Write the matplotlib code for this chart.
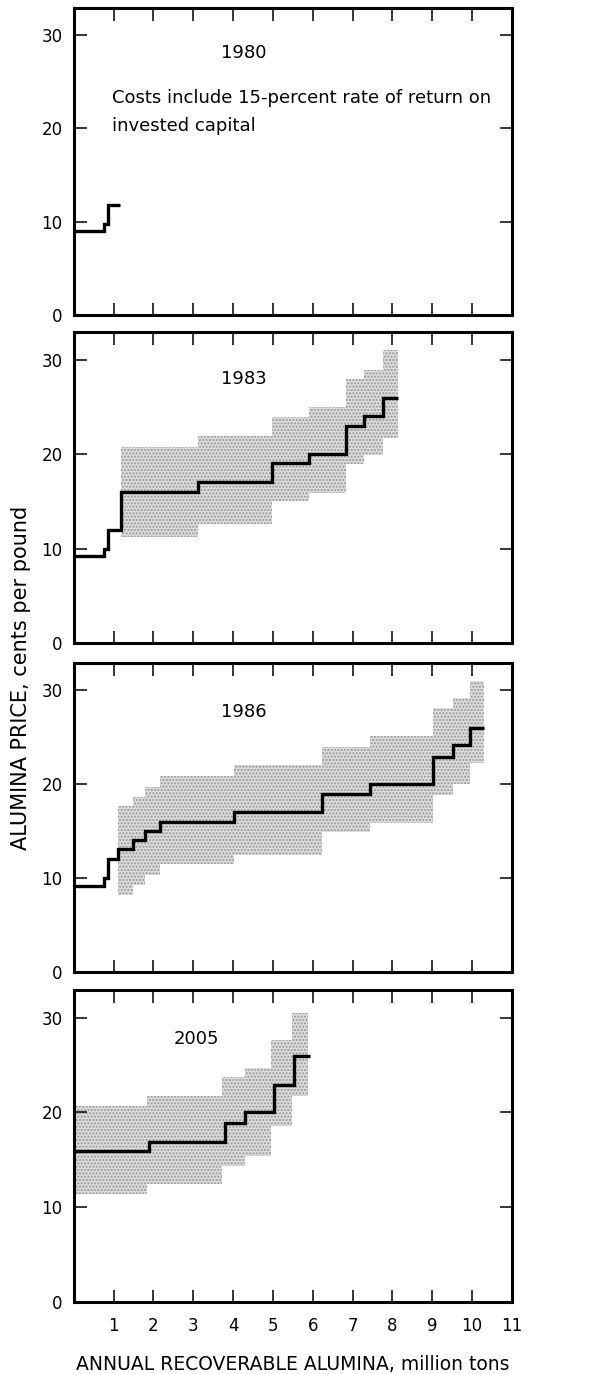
import matplotlib
matplotlib.use("Agg")
import matplotlib.pyplot as plt

# alumina price curves (cents per pound vs million tons)
years = ["1980", "1983", "1986", "2005"]

edges_1980 = [0, 0.77, 0.86, 1.17]
price_1980 = [9.0, 9.8, 11.8]

edges_1983 = [0, 0.77, 0.85, 1.18, 3.11, 4.98, 5.91, 6.83, 7.28, 7.76, 8.13]
price_1983 = [9.2, 10.0, 12.0, 16.0, 17.0, 19.0, 20.0, 23.0, 24.0, 25.9]
band_edges_1983 = [1.18, 3.11, 4.98, 5.91, 6.83, 7.28, 7.76, 8.13]
band_hi_1983 = [20.7, 21.9, 23.9, 25.0, 27.9, 28.9, 31.0]
band_lo_1983 = [11.2, 12.6, 15.0, 15.9, 18.9, 19.9, 21.7]

edges_1986 = [0, 0.77, 0.85, 1.10, 1.48, 1.78, 2.17, 4.02, 6.24, 7.45, 9.02, 9.52, 9.96, 10.31]
price_1986 = [9.2, 10.0, 12.0, 13.1, 14.1, 15.0, 16.0, 17.0, 19.0, 20.0, 22.9, 24.2, 26.0]
band_edges_1986 = [1.10, 1.48, 1.78, 2.17, 4.02, 6.24, 7.45, 9.02, 9.52, 9.96, 10.31]
band_hi_1986 = [17.7, 18.6, 19.7, 20.9, 22.0, 24.0, 25.1, 28.1, 29.2, 31.0]
band_lo_1986 = [8.2, 9.3, 10.3, 11.5, 12.5, 14.9, 15.9, 18.8, 20.0, 22.2]

edges_2005 = [0, 1.89, 3.80, 4.29, 5.02, 5.54, 5.93]
price_2005 = [15.9, 16.9, 18.9, 20.0, 22.85, 26.0]
band_edges_2005 = [0, 1.83, 3.73, 4.29, 4.94, 5.49, 5.89]
band_hi_2005 = [20.65, 21.7, 23.7, 24.7, 27.6, 30.5]
band_lo_2005 = [11.4, 12.4, 14.35, 15.4, 18.6, 21.7]

x_ticks = list(range(1, 11))
x_labels = [str(i) for i in range(1, 12)]
y_ticks = [0, 10, 20, 30]

plt.rcParams['hatch.linewidth'] = 1.0
plt.rcParams['hatch.color'] = '#969696'

fig = plt.figure(figsize=(6.1, 13.74), dpi=100)

# panel boxes in figure coords (left, bottom, width, height)
boxes = [
    [0.121, 0.7707, 0.718, 0.2234],
    [0.121, 0.532, 0.718, 0.2263],
    [0.121, 0.2926, 0.718, 0.2249],
    [0.121, 0.0524, 0.718, 0.227],
]

lines = [(edges_1980, price_1980), (edges_1983, price_1983),
         (edges_1986, price_1986), (edges_2005, price_2005)]
bands = [None,
         (band_edges_1983, band_hi_1983, band_lo_1983),
         (band_edges_1986, band_hi_1986, band_lo_1986),
         (band_edges_2005, band_hi_2005, band_lo_2005)]
year_pos = [(4.26, 28.1), (4.26, 27.9), (4.26, 27.7), (3.09, 27.7)]

for i, box in enumerate(boxes):
    ax = fig.add_axes(box)
    ax.set_xlim(0, 11)
    ax.set_ylim(0, 32.9)

    if bands[i] is not None:
        be, hi, lo = bands[i]
        ax.stairs(hi, be, baseline=lo, fill=True, facecolor='#dcdcdc',
                  edgecolor='#969696', hatch='.....', linewidth=0)

    e, v = lines[i]
    ax.stairs(v, e, baseline=None, color='black', linewidth=2.4)

    ax.text(year_pos[i][0], year_pos[i][1], years[i], ha='center',
            va='center', fontsize=13)

    for s in ax.spines.values():
        s.set_linewidth(2.2)
    ax.tick_params(direction='in', length=9, width=1.1, top=True,
                   right=True, labelsize=12, pad=8)
    ax.set_yticks(y_ticks)
    if i == 3:
        ax.set_xticks(x_ticks + [11])
        ax.set_xticklabels(x_labels)
        ax.tick_params(axis='x', pad=11)
        ax.set_xlabel("ANNUAL RECOVERABLE ALUMINA, million tons",
                      fontsize=13.5, labelpad=14)
    else:
        ax.set_xticks(x_ticks)
        ax.set_xticklabels([])
    if i == 0:
        ax.text(0.97, 23.3, "Costs include 15-percent rate of return on",
                fontsize=13, va='center')
        ax.text(0.97, 20.3, "invested capital", fontsize=13, va='center')

fig.text(0.034, 0.507, "ALUMINA PRICE, cents per pound", rotation=90,
         ha='center', va='center', fontsize=15)

fig.savefig("out.png", dpi=100)
